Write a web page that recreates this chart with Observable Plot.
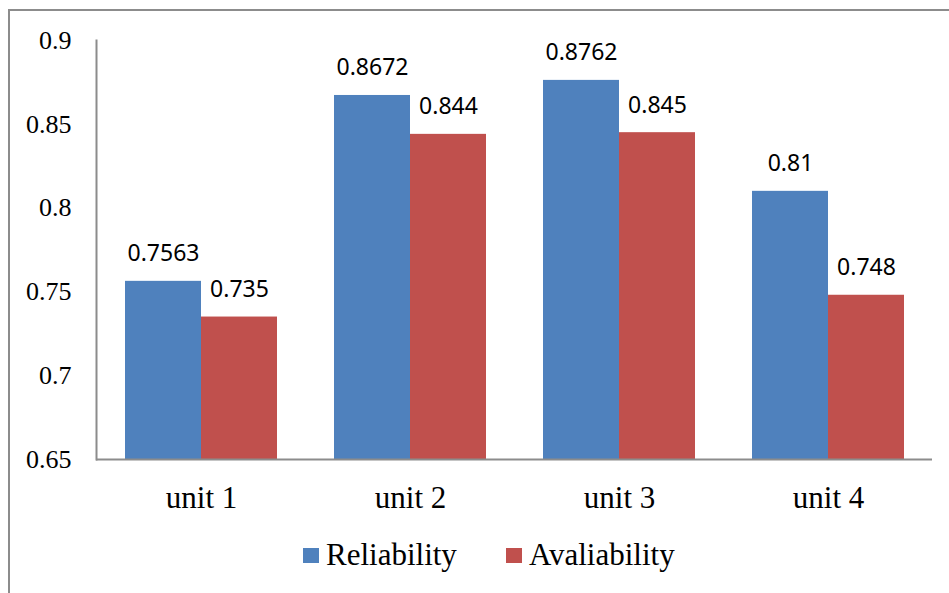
<!DOCTYPE html>
<html>
<head>
<meta charset="utf-8">
<script src="https://cdn.jsdelivr.net/npm/d3@7"></script>
<script src="https://cdn.jsdelivr.net/npm/@observablehq/plot@0.6"></script>
<style>
  html, body { margin: 0; padding: 0; background: #fff; }
  #wrap { position: relative; width: 949px; height: 593px; overflow: hidden; background: #fff; }
  #border { position: absolute; left: 8px; top: 9px; width: 1200px; height: 1200px;
            border-left: 2px solid #8c8c8c; border-top: 2px solid #8c8c8c; box-sizing: border-box; }
  #chart { position: absolute; left: 0; top: 0; }
  #legend { position: absolute; left: 303px; top: 537px;
    font-family: 'Liberation Serif', 'Times New Roman', serif; font-size: 31px; color: #000; }
  #legend, #legend * {
    font-family: 'Liberation Serif', 'Times New Roman', serif !important;
    font-size: 31px !important; color: #000 !important; }
  #legend > div { margin: 0 !important; min-height: 0 !important; }
  #legend svg { margin-right: 7px !important; }
  #legend > div > * { margin-right: 49px !important; }
</style>
</head>
<body>
<div id="wrap">
  <div id="border"></div>
  <div id="chart"></div>
  <div id="legend"></div>
</div>
<script>
// Categories, series and values
const units = ["unit 1", "unit 2", "unit 3", "unit 4"];
const series = ["Reliability", "Avaliability"];
const reliability = [0.7563, 0.8672, 0.8762, 0.81];
const availability = [0.735, 0.844, 0.845, 0.748];
const yTicks = [0.65, 0.7, 0.75, 0.8, 0.85, 0.9];
const colors = ["#4F81BD", "#C0504D"];

const yMin = 0.65, yMax = 0.9;

const relData = units.map((u, i) => ({unit: u, series: series[0], value: reliability[i]}));
const avaData = units.map((u, i) => ({unit: u, series: series[1], value: availability[i]}));

// Layout
const W = 949, H = 530;
const mL = 96, mR = 17, mT = 40, mB = 71;
const gapRatio = 3 / 11; // gap between groups relative to step
const step = (W - mL - mR) / units.length;
const half = step * (1 - gapRatio) / 2;

const serif = "'Liberation Serif', 'Times New Roman', serif";
const sans = "'Noto Sans', 'Open Sans', sans-serif";

const chart = Plot.plot({
  width: W,
  height: H,
  marginLeft: mL,
  marginRight: mR,
  marginTop: mT,
  marginBottom: mB,
  style: {background: "transparent", overflow: "visible", color: "#000"},
  x: {domain: units, paddingInner: gapRatio, paddingOuter: gapRatio / 2, axis: null, label: null},
  y: {domain: [yMin, yMax], axis: null, label: null},
  color: {domain: series, range: colors},
  marks: [
    Plot.barY(relData, {x: "unit", y1: () => yMin, y2: "value", fill: "series", insetRight: half}),
    Plot.barY(avaData, {x: "unit", y1: () => yMin, y2: "value", fill: "series", insetLeft: half}),
    Plot.text(relData, {x: "unit", y: "value", text: d => String(d.value), dx: -half / 2, dy: -20,
      lineAnchor: "bottom", fontSize: 23, fontFamily: sans, fill: "#000"}),
    Plot.text(avaData, {x: "unit", y: "value", text: d => String(d.value), dx: half / 2, dy: -20,
      lineAnchor: "bottom", fontSize: 23, fontFamily: sans, fill: "#000"}),
    Plot.axisY({ticks: yTicks, tickSize: 0, tickPadding: 25, tickFormat: d => String(d), label: null,
      fontSize: 26, fontFamily: serif, fill: "#000"}),
    Plot.axisX({tickSize: 0, tickPadding: 26, label: null, fontSize: 31, fontFamily: serif, fill: "#000"}),
    Plot.ruleY([yMin], {stroke: "#8c8c8c", strokeWidth: 2}),
    Plot.frame({anchor: "left", stroke: "#8c8c8c", strokeWidth: 2})
  ]
});
document.getElementById("chart").appendChild(chart);

const legend = Plot.legend({
  color: {domain: series, range: colors},
  legend: "swatches",
  swatchWidth: 16,
  swatchHeight: 15,
  className: "lg"
});
document.getElementById("legend").appendChild(legend);
</script>
</body>
</html>
